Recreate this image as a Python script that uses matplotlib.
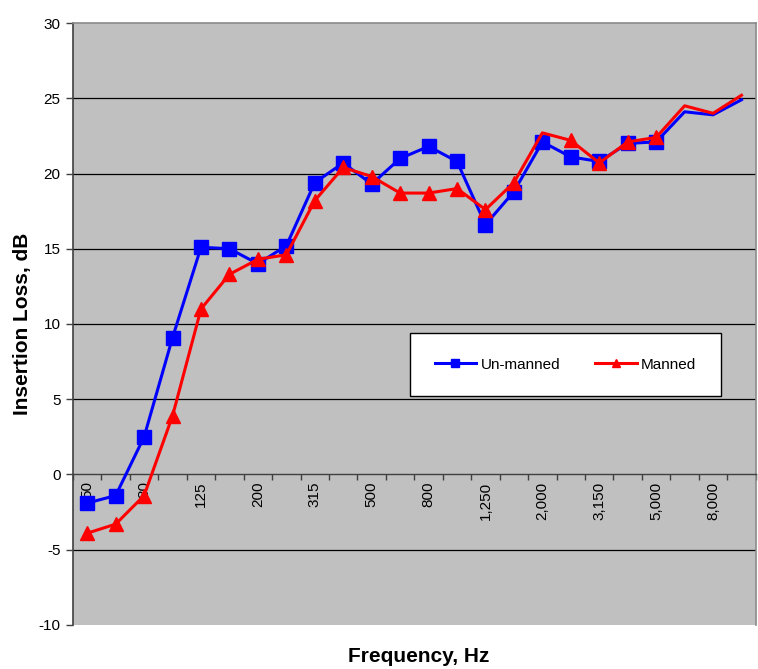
import numpy as np
import matplotlib
matplotlib.use("Agg")
import matplotlib.pyplot as plt
from matplotlib.ticker import FixedLocator, NullFormatter, FixedFormatter

plt.rcParams['font.family'] = ['Liberation Sans', 'DejaVu Sans']
plt.rcParams['axes.unicode_minus'] = False

freqs = ["50", "63", "80", "100", "125", "160", "200", "250", "315", "400", "500",
         "630", "800", "1,000", "1,250", "1,600", "2,000", "2,500", "3,150", "4,000",
         "5,000", "6,300", "8,000", "10,000"]
unmanned = [-1.9, -1.4, 2.5, 9.1, 15.1, 15.0, 14.0, 15.2, 19.4, 20.7, 19.3,
            21.0, 21.8, 20.8, 16.6, 18.8, 22.1, 21.1, 20.8, 22.0, 22.1, 24.1, 23.9, 24.9]
manned = [-3.9, -3.3, -1.4, 3.9, 11.0, 13.3, 14.3, 14.6, 18.2, 20.4, 19.8,
          18.7, 18.7, 19.0, 17.6, 19.4, 22.7, 22.2, 20.7, 22.1, 22.4, 24.5, 24.0, 25.2]

x = np.arange(len(freqs))
fig = plt.figure(figsize=(7.58, 6.69), dpi=100)
ax = fig.add_axes([0.0963, 0.0658, 0.9007, 0.8998])
ax.set_facecolor('#C0C0C0')

mark_u = [i for i in range(21)]
mark_m = [i for i in range(21) if i != 16]
ax.plot(x, unmanned, color='#0000FF', lw=2.2, marker='s', markersize=9.5,
        markeredgecolor='#0000FF', markevery=mark_u, label='Un-manned', zorder=3)
ax.plot(x, manned, color='#FF0000', lw=2.2, marker='^', markersize=10.5,
        markeredgecolor='#FF0000', markevery=mark_m, label='Manned', zorder=4)

ax.set_xlim(-0.5, len(freqs) - 0.5)
ax.set_ylim(-10, 30)
ax.set_yticks(np.arange(-10, 31, 5))
for yv in [5, 10, 15, 20, 25, -5]:
    ax.axhline(yv, color='black', lw=0.9, zorder=1)

ax.spines['bottom'].set_position(('data', 0))
ax.spines['bottom'].set_color('#404040')
ax.spines['bottom'].set_linewidth(1.0)
ax.spines['left'].set_color('#404040')
ax.spines['left'].set_linewidth(1.2)
for s in ['top', 'right']:
    ax.spines[s].set_color('#8a8a8a')
    ax.spines[s].set_linewidth(1.2)

ax.xaxis.set_major_locator(FixedLocator(np.arange(-0.5, len(freqs), 1)))
ax.xaxis.set_major_formatter(NullFormatter())
ax.xaxis.set_minor_locator(FixedLocator(x[::2]))
ax.xaxis.set_minor_formatter(FixedFormatter(freqs[::2]))
ax.tick_params(axis='x', which='major', direction='out', length=4, width=1, color='#404040')
ax.tick_params(axis='x', which='minor', length=0, pad=5, labelsize=11, labelrotation=90)
ax.tick_params(axis='y', direction='out', length=5, width=1, color='#404040', labelsize=11, pad=4)

ax.set_ylabel('Insertion Loss, dB', fontsize=15, fontweight='bold')
ax.yaxis.set_label_coords(-0.06, 0.5)
fig.text(0.553, 0.018, 'Frequency, Hz', fontsize=15, fontweight='bold', ha='center', va='center')

leg = ax.legend(loc='center', bbox_to_anchor=(0.7215, 0.4325), ncol=2, fontsize=11,
                frameon=True, fancybox=False, edgecolor='black', facecolor='white',
                framealpha=1, markerscale=0.6, handlelength=2.7, handletextpad=0.3,
                columnspacing=2.3, borderpad=1.6)
leg.get_frame().set_linewidth(1.0)

fig.savefig('out.png', dpi=100)
